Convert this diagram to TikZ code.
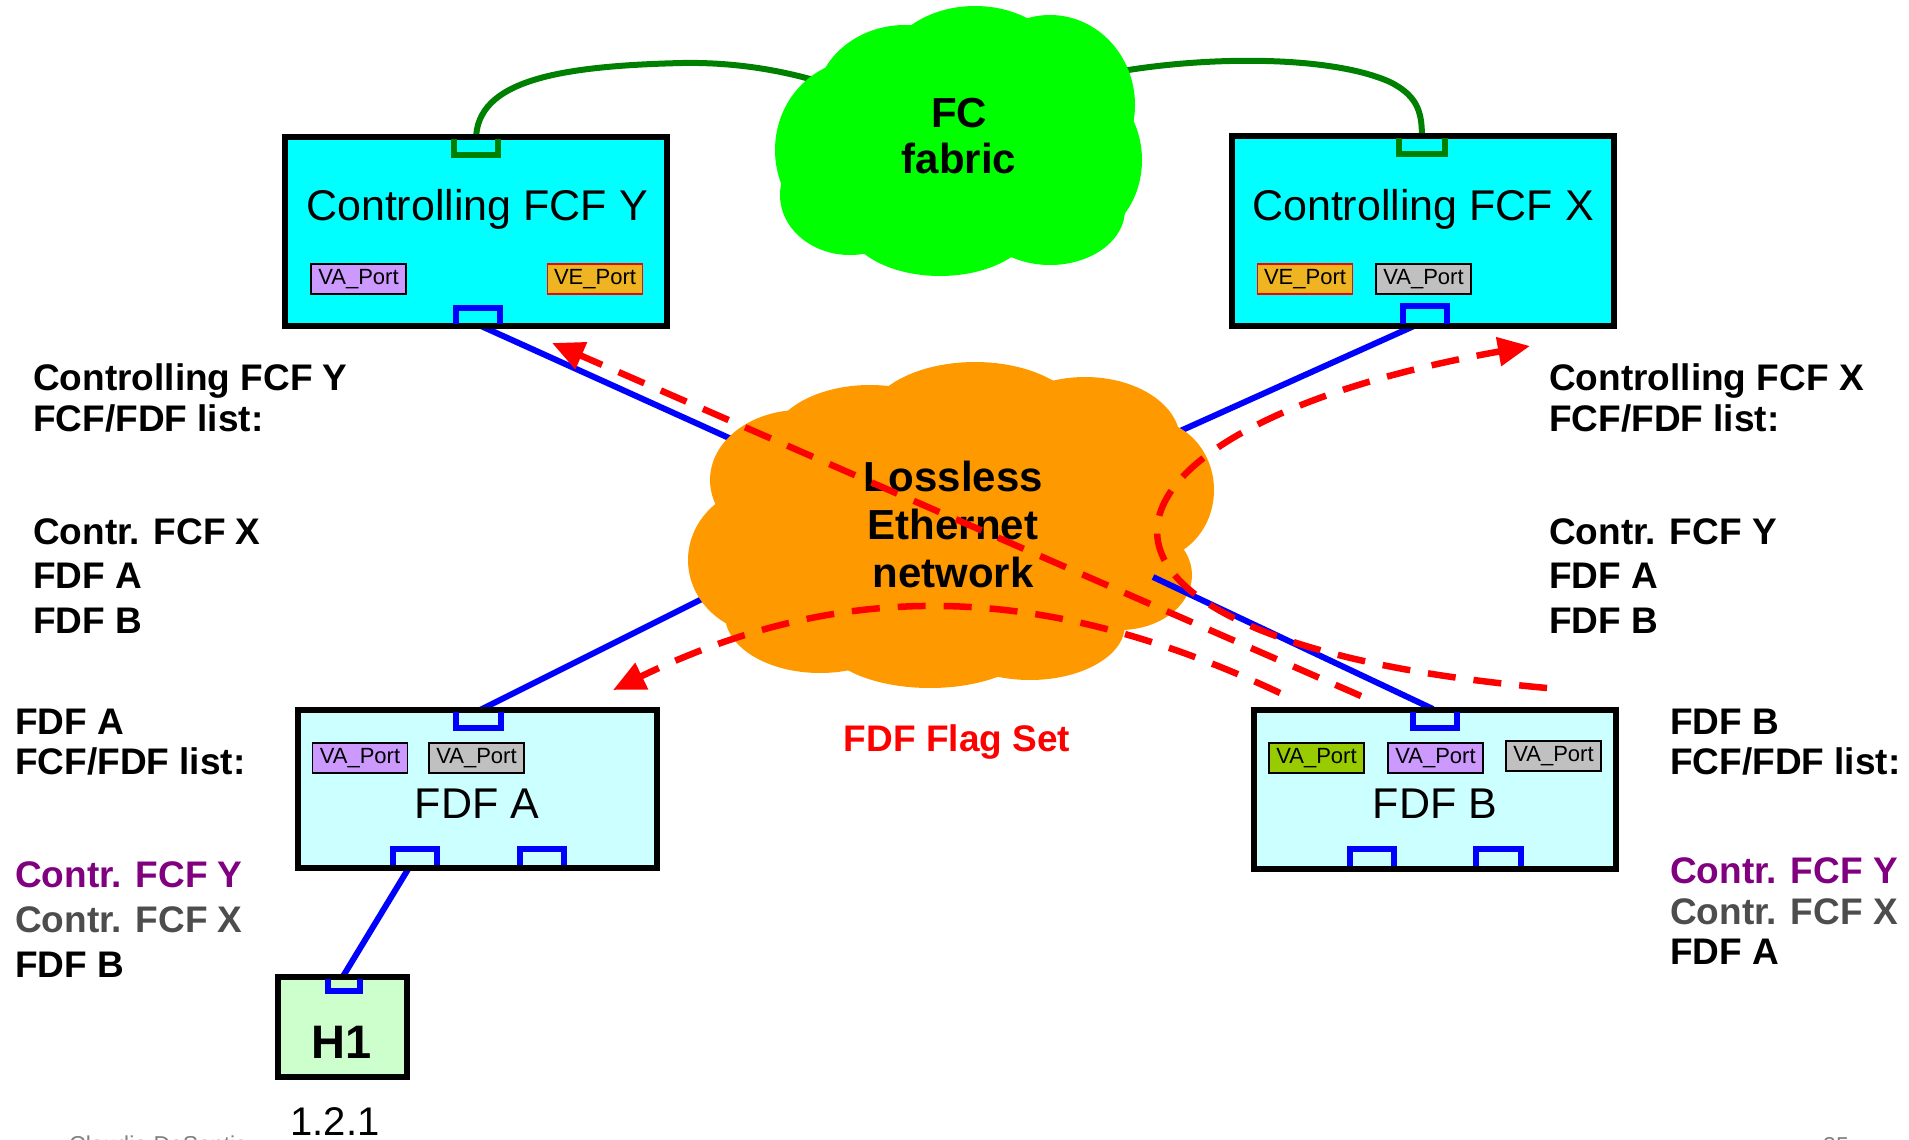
\documentclass[tikz,border=0pt]{standalone}
\usepackage{fontspec}
\setmainfont{Liberation Sans}
\usetikzlibrary{arrows.meta}
\definecolor{fcgreen}{HTML}{00FF00}
\definecolor{dkgreen}{HTML}{008000}
\definecolor{lanorange}{HTML}{FF9900}
\definecolor{boxcyan}{HTML}{00FFFF}
\definecolor{ltcyan}{HTML}{CCFFFF}
\definecolor{ltgreen}{HTML}{CCFFCC}
\definecolor{lav}{HTML}{CC99FF}
\definecolor{vegold}{HTML}{EEB422}
\definecolor{pgrey}{HTML}{C0C0C0}
\definecolor{pgreen}{HTML}{99CC00}
\definecolor{purp}{HTML}{800080}
\definecolor{dgrey}{HTML}{4D4D4D}
\definecolor{footgrey}{HTML}{808080}
\begin{document}
\begin{tikzpicture}[x=1pt,y=-1pt,
  lab/.style={anchor=base west, inner sep=0pt, font=\fontsize{37}{40}\selectfont\bfseries},
  devbox/.style={draw=black, line width=6pt, inner sep=0pt},
  portbox/.style={draw=black, line width=1.8pt, minimum width=95pt, minimum height=30pt, inner sep=0pt, font=\fontsize{22}{24}\selectfont},
  portline/.style={line width=5.5pt},
  blueln/.style={draw=blue, line width=6pt},
  greenln/.style={draw=dkgreen, line width=6pt},
  reddash/.style={draw=red, line width=6.5pt, dash pattern=on 28pt off 18pt},
  redtip/.style={-{Triangle[length=32pt,width=28pt]}},
  boxtxt/.style={anchor=base, inner sep=0pt, font=\fontsize{43}{48}\selectfont},
  cloudtxt/.style={anchor=base, inner sep=0pt, font=\fontsize{42}{48}\selectfont\bfseries},
  foot/.style={anchor=base west, inner sep=0pt, text=footgrey, font=\fontsize{23}{26}\selectfont}
]
\useasboundingbox (0,0) rectangle (1909,1140);

% ---------- connector coordinates ----------
\coordinate (Ygp) at (476,140);
\coordinate (Xgp) at (1422,140);
\coordinate (Ybp) at (481,326);
\coordinate (Xbp) at (1414,326);
\coordinate (Atp) at (478,711);
\coordinate (Btp) at (1433,709);
\coordinate (Abp) at (410,866);
\coordinate (Hp)  at (342,978);
\coordinate (fcL) at (830,85);
\coordinate (fcR) at (1100,75);
\coordinate (lanY) at (800,470);
\coordinate (lanX) at (1120,458);
\coordinate (lanA) at (770,565);
\coordinate (lanB) at (1153,577);

% ---------- links under the clouds ----------
\draw[greenln] (Ygp) .. controls (476,80) and (560,66) .. (682,63)
                     .. controls (740,62) and (790,72) .. (fcL);
\draw[greenln] (fcR) .. controls (1200,55) and (1330,55) .. (1390,82)
                     .. controls (1420,97) and (1422,115) .. (Xgp);
\draw[blueln] (Ybp) -- (lanY);
\draw[blueln] (Xbp) -- (lanX);
\draw[blueln] (Atp) -- (lanA);
\draw[blueln] (Abp) -- (Hp);

% ---------- FC fabric cloud ----------
\begin{scope}[fill=fcgreen]
\fill (860,150) ellipse [x radius=85pt, y radius=90pt];
\fill (905,105) ellipse [x radius=90pt, y radius=80pt];
\fill (975,80) ellipse [x radius=95pt, y radius=74pt];
\fill (1050,105) ellipse [x radius=85pt, y radius=90pt];
\fill (1075,160) ellipse [x radius=67pt, y radius=80pt];
\fill (1050,210) ellipse [x radius=75pt, y radius=55pt];
\fill (940,220) ellipse [x radius=95pt, y radius=56pt];
\fill (850,195) ellipse [x radius=70pt, y radius=60pt];
\fill (960,150) ellipse [x radius=150pt, y radius=100pt];
\end{scope}
\node[cloudtxt] (fc1) at (959,127) {FC};
\node[cloudtxt] (fc2) at (959,173) {fabric};

% ---------- Lossless Ethernet cloud ----------
\begin{scope}[fill=lanorange]
\fill (770,560) ellipse [x radius=82pt, y radius=75pt];
\fill (800,480) ellipse [x radius=90pt, y radius=70pt];
\fill (870,445) ellipse [x radius=100pt, y radius=60pt];
\fill (975,425) ellipse [x radius=110pt, y radius=63pt];
\fill (1085,440) ellipse [x radius=95pt, y radius=63pt];
\fill (1150,490) ellipse [x radius=64pt, y radius=70pt];
\fill (1120,575) ellipse [x radius=72pt, y radius=55pt];
\fill (1030,625) ellipse [x radius=95pt, y radius=55pt];
\fill (930,635) ellipse [x radius=110pt, y radius=53pt];
\fill (820,615) ellipse [x radius=95pt, y radius=58pt];
\fill (950,530) ellipse [x radius=210pt, y radius=115pt];
\end{scope}
\node[cloudtxt] (ln1) at (953,491) {Lossless};
\node[cloudtxt] (ln2) at (953,539) {Ethernet};
\node[cloudtxt] (ln3) at (953,587) {network};

% link drawn over the cloud
\draw[blueln] (lanB) -- (Btp);

% ---------- device boxes ----------
\node[devbox, fill=boxcyan, minimum width=382pt, minimum height=189pt] (Y) at (476,231.5) {};
\node[devbox, fill=boxcyan, minimum width=382pt, minimum height=190pt] (X) at (1423,231) {};
\node[devbox, fill=ltcyan, minimum width=359pt, minimum height=158pt] (A) at (477,788.5) {};
\node[devbox, fill=ltcyan, minimum width=362pt, minimum height=159pt] (B) at (1434.5,789) {};
\node[devbox, fill=ltgreen, minimum width=129pt, minimum height=100pt] (H) at (342,1026.5) {};

\node[boxtxt] (Yt) at (477,220) {Controlling FCF Y};
\node[boxtxt] (Xt) at (1423,220) {Controlling FCF X};
\node[boxtxt] (At) at (477,818) {FDF A};
\node[boxtxt] (Bt) at (1435,818) {FDF B};
\node[anchor=base, inner sep=0pt, font=\fontsize{47}{50}\selectfont\bfseries] (Ht) at (342,1058) {H1};
\node[anchor=base, inner sep=0pt, font=\fontsize{40}{44}\selectfont] (Hn) at (335,1135) {1.2.1};

% ---------- small port labels ----------
\node[portbox, fill=lav] (Yva) at (358.5,279) {VA\_Port};
\node[portbox, fill=vegold, draw=red] (Yve) at (595,279) {VE\_Port};
\node[portbox, fill=vegold, draw=red] (Xve) at (1305,279) {VE\_Port};
\node[portbox, fill=pgrey] (Xva) at (1423.5,279) {VA\_Port};
\node[portbox, fill=lav] (Ava1) at (360,758) {VA\_Port};
\node[portbox, fill=pgrey] (Ava2) at (476.5,758) {VA\_Port};
\node[portbox, fill=pgreen] (Bva1) at (1316.5,758) {VA\_Port};
\node[portbox, fill=lav] (Bva2) at (1435.5,758) {VA\_Port};
\node[portbox, fill=pgrey] (Bva3) at (1553.5,756) {VA\_Port};

% ---------- physical ports ----------
\draw[portline, dkgreen] (454,139) -- (454,155) -- (498,155) -- (498,139);
\draw[portline, blue] (456,324) -- (456,308) -- (500,308) -- (500,324);
\draw[portline, dkgreen] (1399,138) -- (1399,154) -- (1445,154) -- (1445,138);
\draw[portline, blue] (1403,324) -- (1403,306) -- (1447,306) -- (1447,324);
\draw[portline, blue] (456,712) -- (456,728) -- (501,728) -- (501,712);
\draw[portline, blue] (393,865) -- (393,849) -- (437,849) -- (437,865);
\draw[portline, blue] (520,865) -- (520,849) -- (564,849) -- (564,865);
\draw[portline, blue] (1413,712) -- (1413,728) -- (1457,728) -- (1457,712);
\draw[portline, blue] (1350,866) -- (1350,849) -- (1394,849) -- (1394,866);
\draw[portline, blue] (1476,866) -- (1476,849) -- (1521,849) -- (1521,866);
\draw[portline, blue] (328,979) -- (328,991) -- (360,991) -- (360,979);

% ---------- red dashed messages ----------
\coordinate (r1a) at (1361,696);
\coordinate (r1b) at (552,343);
\coordinate (r2a) at (1280,693);
\coordinate (r2b) at (613,690);
\coordinate (r3a) at (1547,688);
\coordinate (r3b) at (1530,346);
\draw[reddash, redtip] (r1a) -- (r1b);
\draw[reddash, redtip] (r2a) .. controls (1050,585) and (850,575) .. (r2b);
\draw[reddash, redtip] (r3a) .. controls (1010,640) and (1060,430) .. (r3b);
\node[anchor=base, inner sep=0pt, text=red, font=\fontsize{37}{40}\selectfont\bfseries] (flag) at (957,751) {FDF Flag Set};

% ---------- lists ----------
\node[lab] (lY1) at (33,390) {Controlling FCF Y};
\node[lab] (lY2) at (33,431) {FCF/FDF list:};
\node[lab] (lY3) at (33,544) {Contr. FCF X};
\node[lab] (lY4) at (33,588) {FDF A};
\node[lab] (lY5) at (33,633) {FDF B};

\node[lab] (lX1) at (1549,390) {Controlling FCF X};
\node[lab] (lX2) at (1549,431) {FCF/FDF list:};
\node[lab] (lX3) at (1549,544) {Contr. FCF Y};
\node[lab] (lX4) at (1549,588) {FDF A};
\node[lab] (lX5) at (1549,633) {FDF B};

\node[lab] (lA1) at (15,734) {FDF A};
\node[lab] (lA2) at (15,774) {FCF/FDF list:};
\node[lab, text=purp] (lA3) at (15,887) {Contr. FCF Y};
\node[lab, text=dgrey] (lA4) at (15,932) {Contr. FCF X};
\node[lab] (lA5) at (15,977) {FDF B};

\node[lab] (lB1) at (1670,734) {FDF B};
\node[lab] (lB2) at (1670,774) {FCF/FDF list:};
\node[lab, text=purp] (lB3) at (1670,883) {Contr. FCF Y};
\node[lab, text=dgrey] (lB4) at (1670,924) {Contr. FCF X};
\node[lab] (lB5) at (1670,964) {FDF A};

% ---------- footer (cut by page edge, as in the reference) ----------
\node[foot] (f1) at (69,1152) {Claudio DeSantis};
\node[foot] (f2) at (1823,1153) {35};
\end{tikzpicture}
\end{document}
